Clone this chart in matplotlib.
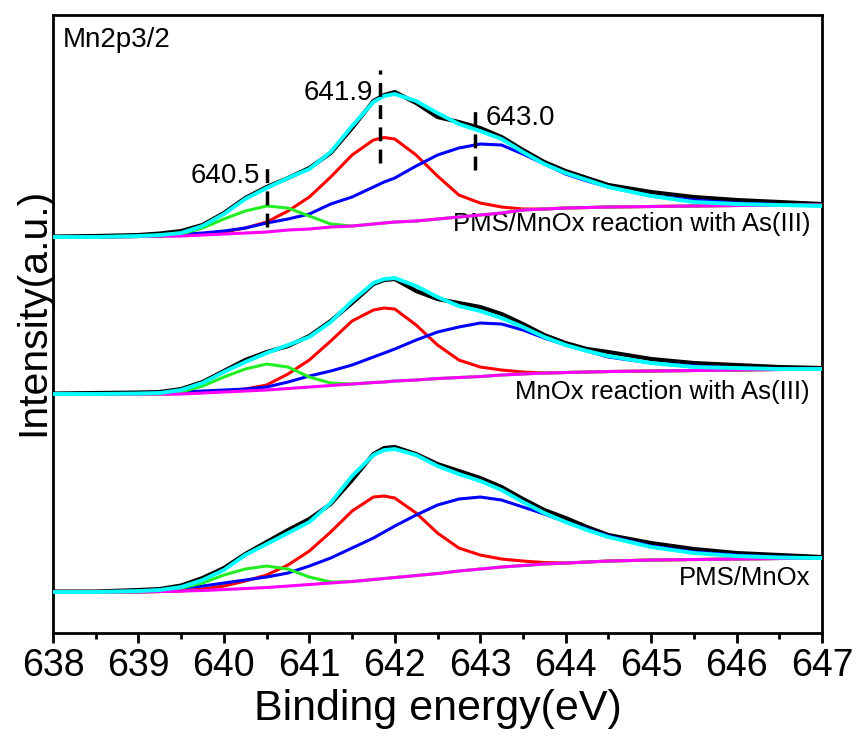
import matplotlib
matplotlib.use('Agg')
import matplotlib.pyplot as plt
from matplotlib.ticker import MultipleLocator

# Mn2p3/2 XPS fits (binding energy in eV, intensity in a.u.)
energy = [638, 638.5, 639, 639.25, 639.5, 639.75, 640, 640.25, 640.5, 640.75,
          641, 641.25, 641.5, 641.75, 641.875, 642, 642.25, 642.5, 642.75, 643, 643.25,
          643.5, 643.75, 644, 644.25, 644.5, 645, 645.5, 646, 646.5, 647]

# PMS/MnOx reaction with As(III)
top_raw = [396.5, 397, 398, 399.5, 402, 408, 420, 435, 446, 455, 465, 480, 505, 532, 538, 541,
           530, 516, 511, 505, 496, 483, 471, 462, 455, 448, 441, 436, 433, 431, 429]
top_fit = [396, 396, 397, 398, 400, 407, 419, 434, 445, 455, 464, 481, 507, 531, 537, 539,
           532, 520, 509, 502, 494, 481, 469, 460, 453, 446, 437, 431, 429, 428, 427]
top_red = [396, 396, 396.5, 397, 397.5, 399, 401, 405, 411, 422, 436, 456, 478, 493, 495.5, 494,
           478, 457, 438, 430, 426, 424, 424, 425, 425.5, 426, 426.5, 427, 427.5, 428, 428]
top_blue = [396, 396, 396.5, 397, 399, 400, 402, 405, 410, 414, 419, 429, 436, 446, 451, 455,
            467, 478, 485, 489, 488, 479, 469, 459, 452, 446, 437, 433, 430, 428.5, 428]
top_green = [396, 396, 396.5, 397, 399, 405, 414, 422, 427, 425, 417, 409, 407, 409, 410, 411,
             412, 414, 416, 418, 420, 423, 424, 425, 425.5, 426, 426.5, 427, 427.5, 428, 428]
top_bg = [396, 396, 396.5, 397, 397, 398, 399, 400, 401, 403, 404, 406, 407, 409, 410, 411,
          412, 414, 416, 418, 420, 423, 424, 425, 425.5, 426, 426.5, 427, 427.5, 428, 428]

# MnOx reaction with As(III)
mid_raw = [239.5, 240, 240.5, 241, 244, 251, 262, 273, 281, 287, 297, 312, 330, 349, 353, 354,
           342, 334, 330, 326, 319, 309, 298, 290, 284, 281, 274, 270, 268, 266, 265]
mid_fit = [239, 239, 239.5, 240, 243, 250, 261, 271, 280, 288, 296, 311, 332, 350, 354, 355,
           347, 336, 327, 322, 315, 306, 296, 288, 282, 277, 270, 266, 265, 264, 264]
mid_red = [239, 239, 239, 239, 239.5, 240.5, 242, 244, 248, 259, 273, 292, 312, 323, 325, 324,
           308, 288, 273, 266, 263, 261, 260, 260.5, 261, 261.5, 262, 262.5, 263, 263.5, 264]
mid_blue = [239, 239, 239.5, 240, 241, 242, 243, 244, 246, 251, 257, 262, 268, 276, 280, 284,
            293, 301, 306, 310, 309, 303, 295, 288, 282, 276, 270, 267, 265, 264, 264]
mid_green = [239, 239, 239, 239, 241, 247, 256, 264, 269, 266, 256, 250, 249, 250.5, 251, 252,
             253, 254.5, 255.5, 256.5, 258, 259, 260, 260.5, 261, 261.5, 262, 262.5, 263, 263.5, 264]
mid_bg = [239, 239, 239, 239, 239, 240, 241, 242, 243, 244.5, 246, 247.5, 249, 250.5, 251, 252,
          253, 254.5, 255.5, 256.5, 258, 259, 260, 260.5, 261, 261.5, 262, 262.5, 263, 263.5, 264]

# PMS/MnOx
bot_raw = [41.5, 41.5, 43, 44, 47.5, 55, 65, 79, 91, 103, 114, 129, 153, 179, 185, 186,
           179, 169, 162, 155, 146, 134, 123, 115, 106, 98, 90, 84, 80, 78, 76]
bot_fit = [41, 41, 42, 43, 46, 53, 63, 78, 89, 100, 111, 130, 157, 178, 183, 184,
           178, 167, 159, 152, 143, 131, 120, 111, 103, 96, 86, 80, 77, 75.5, 75]
bot_red = [41, 41, 41, 41.5, 42, 44, 47, 52, 58, 68, 82, 101, 122, 136, 137, 135,
           120, 100, 85, 78, 74, 72, 70.5, 70, 71, 72, 73, 73.5, 74, 74.5, 75]
bot_blue = [41, 41, 42, 43, 45, 47, 50, 53, 56, 60, 67, 75, 85, 95, 101, 107,
            118, 128, 134, 136, 133, 126, 119, 111, 104, 97, 87, 81, 78, 76, 75]
bot_green = [41, 41, 41, 41.5, 45, 50, 58, 64, 67, 64, 56, 51, 51.5, 53.5, 54.5, 55.5,
             57.5, 59.5, 62, 64, 66, 67.5, 69, 70, 71, 72, 73, 73.5, 74, 74.5, 75]
bot_bg = [41, 41, 41, 41.5, 42, 42.5, 43.5, 44.5, 45.5, 47, 48.5, 50, 51.5, 53.5, 54.5, 55.5,
          57.5, 59.5, 62, 64, 66, 67.5, 69, 70, 71, 72, 73, 73.5, 74, 74.5, 75]

sample_names = ["PMS/MnOx reaction with As(III)", "MnOx reaction with As(III)", "PMS/MnOx"]
sample_label_y = [409, 241, 55]

# peak markers on the top spectrum
peak_pos = [640.5, 641.83, 642.94]
peak_text = ["640.5", "641.9", "643.0"]
peak_line_lo = [406, 470, 463]
peak_line_hi = [465, 563, 528]
peak_text_x = [640.42, 641.75, 643.06]
peak_text_y = [457, 540, 515]

plt.rcParams['font.family'] = ['Liberation Sans', 'DejaVu Sans']
plt.rcParams['lines.scale_dashes'] = False

fig = plt.figure(figsize=(8.56, 7.36), dpi=100)
ax = fig.add_axes([0.0619, 0.1399, 0.8984, 0.8397])

panels = [
    (top_raw, top_fit, top_red, top_blue, top_green, top_bg),
    (mid_raw, mid_fit, mid_red, mid_blue, mid_green, mid_bg),
    (bot_raw, bot_fit, bot_red, bot_blue, bot_green, bot_bg),
]
for raw, fit, p1, p2, p3, bg in panels:
    ax.plot(energy, raw, color='black', lw=3, zorder=1)
    ax.plot(energy, p1, color='#ff0000', lw=2.2, zorder=2)
    ax.plot(energy, p2, color='#0000ff', lw=2.2, zorder=3)
    ax.plot(energy, p3, color='#22ee22', lw=2.2, zorder=4)
    ax.plot(energy, bg, color='#ff00ff', lw=2.2, zorder=5)
    ax.plot(energy, fit, color='#00ffff', lw=2.8, zorder=6)

for name, y in zip(sample_names, sample_label_y):
    ax.text(646.86, y, name, fontsize=18.5, ha='right', va='center')

for x, lo, hi in zip(peak_pos, peak_line_lo, peak_line_hi):
    ax.plot([x, x], [lo, hi], color='black', lw=2.5, dashes=(10, 6), zorder=7)
for x, y, t in zip(peak_text_x, peak_text_y, peak_text):
    ha = 'left' if x > 643 else 'right'
    ax.text(x, y, t, fontsize=20, ha=ha, va='center')

ax.text(0.013, 0.981, "Mn2p3/2", fontsize=20, ha='left', va='top', transform=ax.transAxes)

ax.set_xlim(638, 647)
ax.set_ylim(0, 618)
ax.set_xticks(range(638, 648))
ax.xaxis.set_minor_locator(MultipleLocator(0.5))
ax.set_yticks([])
ax.tick_params(axis='x', which='major', direction='out', length=7, width=2,
               labelsize=27, pad=4)
ax.tick_params(axis='x', which='minor', direction='out', length=4, width=2)
for s in ax.spines.values():
    s.set_linewidth(2)

ax.set_xlabel("Binding energy(eV)", fontsize=31, va='top')
ax.xaxis.set_label_coords(0.5, -0.09)
ax.set_ylabel("Intensity(a.u.)", fontsize=29.5, ha='center', va='center', rotation_mode='default')
ax.yaxis.set_label_coords(-0.026, 0.52)

fig.savefig("out.png", dpi=100)
